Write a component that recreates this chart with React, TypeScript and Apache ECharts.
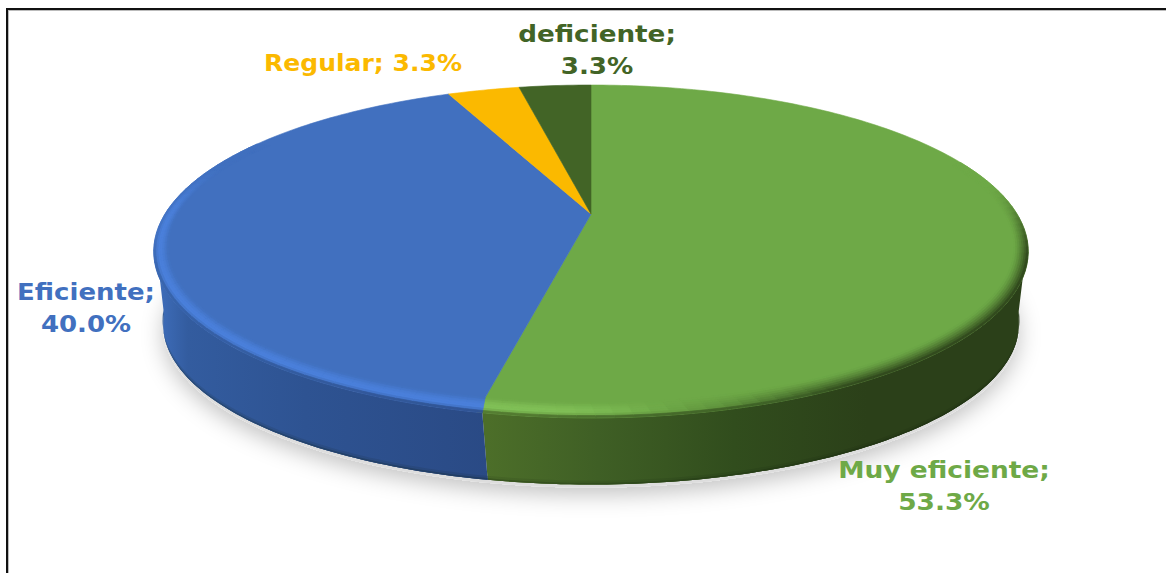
import React, { useEffect, useRef } from "react";
import * as echarts from "echarts";

const categories = ["Muy eficiente", "Eficiente", "Regular", "deficiente"];
const shares = [53.3, 40.0, 3.3, 3.3];

const faceColors = ["#6EA947", "#4170BF", "#FBB900", "#426426"];
const labelColors = ["#6EA947", "#4170BF", "#FBB900", "#426426"];
const highlightColors = ["#84C45A", "#4C83E0", "#FFCC33", "#55803A"];
const sideStops: [number, string][][] = [
  [[100, "#2B4019"], [148, "#2B4019"], [165, "#314D1D"], [180, "#3F5F25"], [192, "#4C6E29"]],
  [[192, "#2A4A85"], [215, "#2E5392"], [240, "#335C9F"], [262, "#3C6AB5"]],
  [],
  [],
];
const labelCenters = [[944, 486], [86, 308], [363, 63], [597, 50]];
const labelWraps = [true, true, false, true];
const labelStretch = [1.15, 1.13, 1.09, 1.14];

const topPlane = { ox: 591, oy: 214, A: 426, B: 158, k: 0.225 };
const basePlane = { ox: 591, oy: 290, A: 418, B: 153, k: 0.2135 };
const TOP_SHIFT = 0.6;
const BASE_SHIFT = 0.8;

type Plane = typeof topPlane;
const project = (p: Plane, deg: number, r = 1): number[] => {
  const a = (deg * Math.PI) / 180;
  const u = r * Math.sin(a);
  const v = -r * Math.cos(a);
  const d = 1 - p.k * v;
  return [p.ox + (p.A * u) / d, p.oy + (p.B * v) / d];
};
const smooth = (x: number) => {
  const t = Math.min(1, Math.max(0, x));
  return t * t * (3 - 2 * t);
};
const mix = (t: number, a: string, b: string) => echarts.color.lerp(t, [a, b]) as string;

const sideColor = (i: number, deg: number) => {
  const stops = sideStops[i];
  if (!stops.length) return faceColors[i];
  if (deg <= stops[0][0]) return stops[0][1];
  for (let s = 1; s < stops.length; s++) {
    if (deg <= stops[s][0]) {
      const t = (deg - stops[s - 1][0]) / (stops[s][0] - stops[s - 1][0]);
      return mix(t, stops[s - 1][1], stops[s][1]);
    }
  }
  return stops[stops.length - 1][1];
};

const poly = (points: number[][], fill: string) => ({
  type: "polygon",
  shape: { points },
  style: { fill, stroke: fill, lineWidth: 0.7 },
});

const range = (a: number, b: number, step: number) => {
  const out: number[] = [];
  const n = Math.max(1, Math.round((b - a) / step));
  for (let i = 0; i <= n; i++) out.push(a + ((b - a) * i) / n);
  return out;
};

// horizontal gradient for a wall, built from the slice's colour stops
const wallGradient = (i: number, darken: number) => {
  const xs = sideStops[i].map(([d, c]) => ({ x: project(basePlane, d - BASE_SHIFT)[0], c }));
  const x0 = Math.min(...xs.map((s) => s.x));
  const x1 = Math.max(...xs.map((s) => s.x));
  const colorStops = xs
    .map((s) => ({ offset: (s.x - x0) / (x1 - x0), color: darken ? mix(darken, s.c, "#0c1a08") : s.c }))
    .sort((a, b) => a.offset - b.offset);
  return { type: "linear", x: x0, y: 0, x2: x1, y2: 0, global: true, colorStops };
};

function renderSlice(params: any) {
  const i = params.dataIndex;
  const total = shares.reduce((s, v) => s + v, 0);
  const before = shares.slice(0, i).reduce((s, v) => s + v, 0);
  const start = echarts.number.linearMap(before, [0, total], [0, 360]);
  const end = echarts.number.linearMap(before + shares[i], [0, total], [0, 360]);
  const children: any[] = [];

  // wall of the disc, only the part that faces the viewer
  const s0 = Math.max(start, 100);
  const s1 = Math.min(end, 262);
  if (s1 > s0) {
    const st = range(s0, s1, 1);
    const top = st.map((d) => project(topPlane, d - TOP_SHIFT));
    const base = st.map((d) => project(basePlane, d - BASE_SHIFT));
    const at = (q: number) => top.map((p, n) => [p[0] + (base[n][0] - p[0]) * q, p[1] + (base[n][1] - p[1]) * q]);
    children.push({
      type: "polygon",
      shape: { points: [...top, ...[...base].reverse()] },
      style: { fill: wallGradient(i, 0) },
    });
    children.push({
      type: "polygon",
      shape: { points: [...at(0.94), ...[...base].reverse()] },
      style: { fill: wallGradient(i, 0.1) },
    });
    children.push({
      type: "polygon",
      shape: { points: [...at(0.975), ...[...base].reverse()] },
      style: { fill: wallGradient(i, 0.28) },
    });
  }

  // top face
  const rim = range(start, end, 1).map((d) => project(topPlane, d));
  children.push({
    type: "polygon",
    shape: { points: [[topPlane.ox, topPlane.oy], ...rim] },
    style: { fill: faceColors[i], stroke: faceColors[i], lineWidth: 0.6 },
  });

  // bevel along the rim
  const bStart = Math.max(start, 70);
  const bEnd = Math.min(end, 300);
  if (bEnd > bStart && sideStops[i].length) {
    const angles = range(bStart, bEnd, 2);
    const bands = 7;
    const point = (d: number, t: number) => {
      const c = Math.cos((d * Math.PI) / 180);
      const rin = 0.97 - 0.03 * c * c;
      return project(topPlane, d - TOP_SHIFT * t, rin + (1 - rin) * t);
    };
    for (let j = 0; j < angles.length - 1; j++) {
      const a = angles[j];
      const b = angles[j + 1];
      const mid = (a + b) / 2;
      const light = smooth((mid - 168) / 18) * (1 - smooth((mid - 268) / 24));
      const dark = (1 - smooth((mid - 150) / 28)) * smooth((mid - 78) / 30);
      const front = smooth((mid - 100) / 30) * (1 - smooth((mid - 250) / 22));
      const side = sideColor(i, mid);
      for (let q = 0; q < bands; q++) {
        const t0 = q / bands;
        const t1 = (q + 1) / bands;
        const t = (q + 0.5) / bands;
        let c = mix(Math.sin(Math.PI * Math.pow(t, 1.3)) * light * 0.85, faceColors[i], highlightColors[i]);
        const toSide = Math.max(dark * Math.pow(t, 1.4), smooth((t - 0.72) / 0.28) * front * 0.9);
        c = mix(toSide, c, side);
        children.push(poly([point(a, t0), point(b, t0), point(b, t1), point(a, t1)], c));
      }
    }
  }

  // label
  const sep = labelWraps[i] ? ";\n" : "; ";
  children.push({
    type: "text",
    x: labelCenters[i][0],
    y: labelCenters[i][1],
    scaleX: labelStretch[i],
    style: {
      text: `${categories[i]}${sep}${shares[i].toFixed(1)}%`,
      x: 0,
      y: 0,
      align: "center",
      verticalAlign: "middle",
      fill: labelColors[i],
      font: 'bold 23px "DejaVu Sans"',
      lineHeight: 32,
    },
  });
  return { type: "group", children };
}

function renderShadow() {
  const outline = range(0, 360, 2).map((d) => {
    const p = project(basePlane, d);
    return [p[0], p[1] + 3];
  });
  return {
    type: "polygon",
    shape: { points: outline },
    style: { fill: "#dddddd", shadowColor: "rgba(0,0,0,0.24)", shadowBlur: 22, shadowOffsetY: 7 },
  };
}

export default function App() {
  const ref = useRef<HTMLDivElement>(null);
  useEffect(() => {
    const chart = echarts.init(ref.current!, null, { renderer: "svg" });
    chart.setOption({
      animation: false,
      backgroundColor: "#ffffff",
      graphic: [
        { type: "line", shape: { x1: 7, y1: 9, x2: 1166, y2: 9 }, style: { stroke: "#111111", lineWidth: 2 } },
        { type: "line", shape: { x1: 7, y1: 8, x2: 7, y2: 573 }, style: { stroke: "#111111", lineWidth: 2 } },
        { type: "line", shape: { x1: 8, y1: 10.5, x2: 1166, y2: 10.5 }, style: { stroke: "#bbbbbb", lineWidth: 1 } },
        { type: "line", shape: { x1: 8.5, y1: 10, x2: 8.5, y2: 573 }, style: { stroke: "#bbbbbb", lineWidth: 1 } },
      ],
      series: [
        { type: "custom", coordinateSystem: "none", silent: true, z: 1, data: [0], renderItem: renderShadow },
        { type: "custom", coordinateSystem: "none", silent: true, z: 2, data: shares, renderItem: renderSlice },
      ],
    });
    return () => chart.dispose();
  }, []);
  return <div ref={ref} style={{ position: "absolute", left: 0, top: 0, width: 1166, height: 573 }} />;
}
